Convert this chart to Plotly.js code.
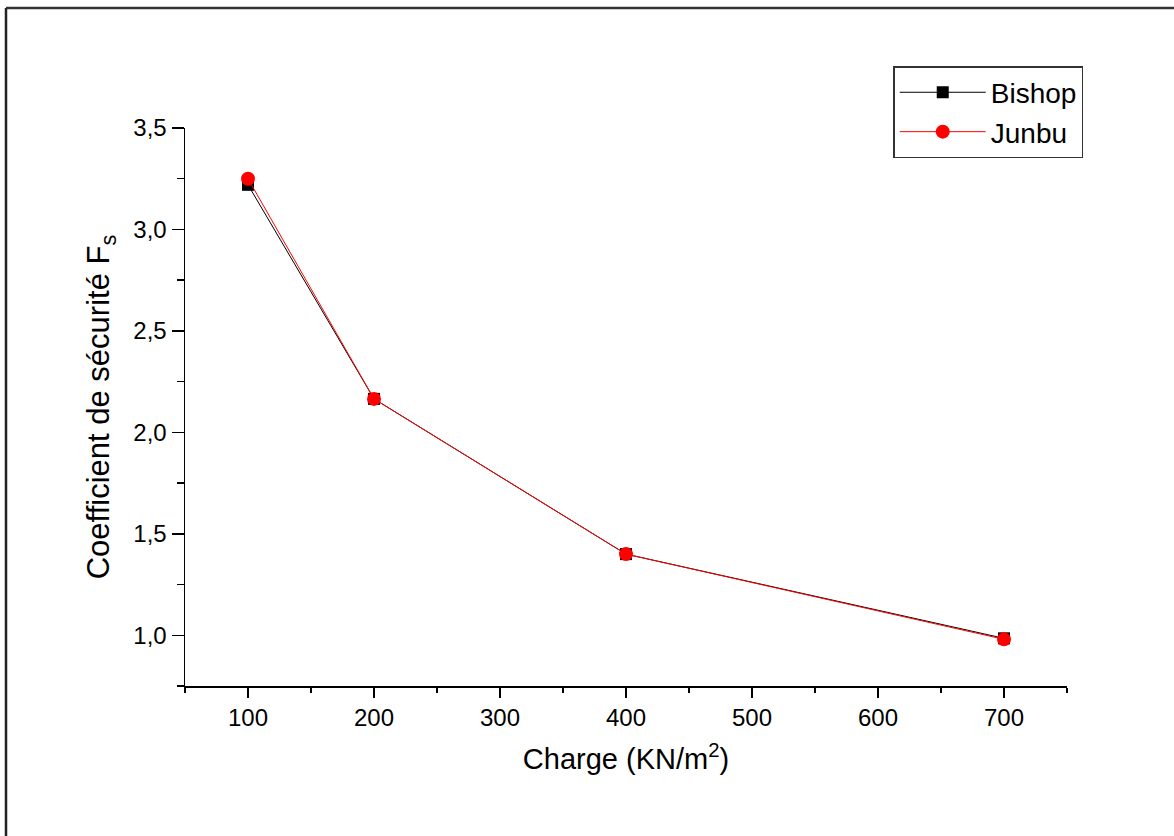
<!DOCTYPE html>
<html>
<head>
<meta charset="utf-8">
<script src="https://cdn.plot.ly/plotly-3.0.1.min.js"></script>
<style>
html,body{margin:0;padding:0;background:#fff;}
#chart{width:1174px;height:836px;}
</style>
</head>
<body>
<div id="chart"></div>
<script>
var charge = [100, 200, 400, 700];
var bishop = [3.22, 2.165, 1.40, 0.985];
var junbu = [3.25, 2.165, 1.40, 0.98];
var seriesNames = ['Bishop', 'Junbu'];

var FONT = 'Arial, "Liberation Sans", sans-serif';

var traces = [
  {
    x: charge, y: bishop, name: seriesNames[0], type: 'scatter', mode: 'lines+markers',
    line: {color: '#000000', width: 1},
    marker: {symbol: 'square', size: 12, color: '#000000'}
  },
  {
    x: charge, y: junbu, name: seriesNames[1], type: 'scatter', mode: 'lines+markers',
    line: {color: '#ff0000', width: 1},
    marker: {symbol: 'circle', size: 14, color: '#ff0000'}
  }
];

var layout = {
  width: 1174, height: 836,
  margin: {l: 185, r: 107, t: 128, b: 150, pad: 0},
  paper_bgcolor: '#ffffff', plot_bgcolor: '#ffffff',
  separators: ', ',
  font: {family: FONT, color: '#000000', size: 22},
  showlegend: true,
  legend: {
    x: 0.803, y: 1.111, xanchor: 'left', yanchor: 'top',
    bordercolor: '#333333', borderwidth: 1.5, bgcolor: '#ffffff',
    font: {family: FONT, size: 28, color: '#000000'},
    itemwidth: 86, tracegroupgap: 0
  },
  xaxis: {
    range: [50, 750], tick0: 0, dtick: 100,
    showgrid: false, zeroline: false,
    showline: true, linecolor: '#000000', linewidth: 1.5,
    ticks: 'outside', ticklen: 10, tickwidth: 1.5, tickcolor: '#000000',
    minor: {dtick: 50, tick0: 0, ticks: 'outside', ticklen: 5, tickwidth: 1.5, tickcolor: '#000000', showgrid: false},
    tickfont: {family: FONT, size: 24},
    title: {text: 'Charge (KN/m<sup>2</sup>)', font: {family: FONT, size: 29}, standoff: 18}
  },
  yaxis: {
    range: [0.75, 3.5], tick0: 0, dtick: 0.5, tickformat: '.1f',
    showgrid: false, zeroline: false,
    showline: true, linecolor: '#000000', linewidth: 1.5,
    ticks: 'outside', ticklen: 12, tickwidth: 1.5, tickcolor: '#000000',
    minor: {dtick: 0.25, tick0: 0, ticks: 'outside', ticklen: 7, tickwidth: 1.5, tickcolor: '#000000', showgrid: false},
    tickfont: {family: FONT, size: 24},
    title: {text: 'Coefficient de sécurité F<sub>s</sub>', font: {family: FONT, size: 31}, standoff: 14}
  },
  shapes: [
    {type: 'line', xref: 'paper', yref: 'paper',
     x0: (6 - 185) / 882, x1: (6 - 185) / 882, y0: (686 - 8) / 558, y1: (686 - 840) / 558,
     line: {color: '#222222', width: 2.5}},
    {type: 'line', xref: 'paper', yref: 'paper',
     x0: (6 - 185) / 882, x1: (1180 - 185) / 882, y0: (686 - 8) / 558, y1: (686 - 8) / 558,
     line: {color: '#333333', width: 2.5}}
  ]
};

Plotly.newPlot('chart', traces, layout, {displayModeBar: false, staticPlot: true});
</script>
</body>
</html>
